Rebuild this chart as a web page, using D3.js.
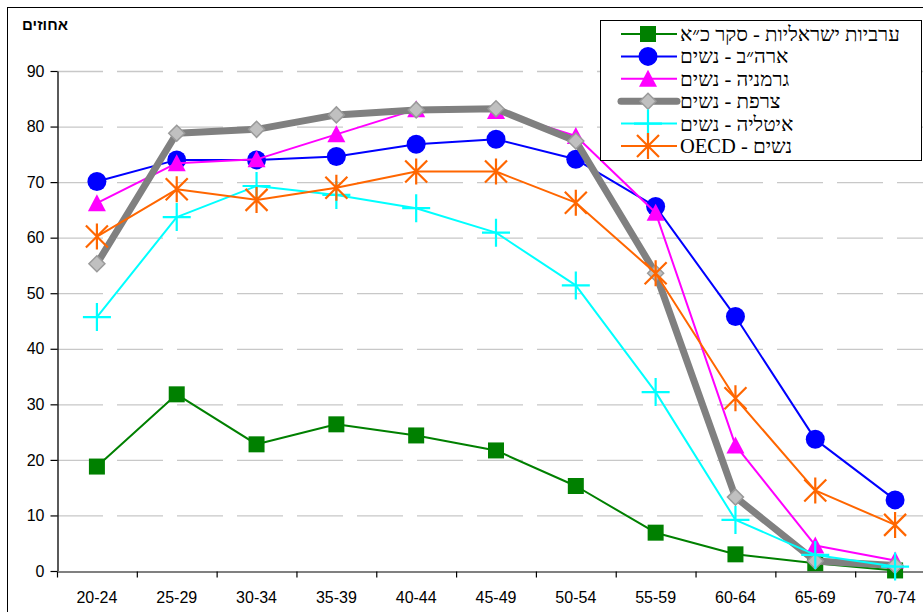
<!DOCTYPE html>
<html>
<head>
<meta charset="utf-8">
<script src="https://cdn.jsdelivr.net/npm/d3@7"></script>
<style>
  body { margin: 0; background: #fff; }
  svg { display: block; }
</style>
</head>
<body>
<svg id="chart" width="923" height="612"></svg>
<script>
// Age groups on the x axis
const ageGroups = ["20-24", "25-29", "30-34", "35-39", "40-44", "45-49", "50-54", "55-59", "60-64", "65-69", "70-74"];
const yTicks = [0, 10, 20, 30, 40, 50, 60, 70, 80, 90];

// Participation rates (percent)
const arabIsraeli = [18.8, 31.8, 22.8, 26.4, 24.4, 21.7, 15.3, 6.9, 3.0, 1.4, 0.1];
const usa = [70.1, 74.0, 74.0, 74.6, 76.8, 77.7, 74.1, 65.6, 45.8, 23.7, 12.8];
const germany = [66.2, 73.4, 74.1, 78.6, 83.1, 82.8, 78.3, 64.5, 22.6, 4.6, 1.9];
const france = [55.3, 78.8, 79.5, 82.1, 83.0, 83.2, 77.4, 53.6, 13.3, 1.8, 1.0];
const italy = [45.7, 63.7, 69.3, 67.7, 65.3, 60.9, 51.4, 32.2, 9.2, 2.9, 0.8];
const oecd = [60.2, 68.7, 66.8, 69.0, 71.9, 71.9, 66.3, 53.6, 31.1, 14.5, 8.3];

const seriesNames = ["ערביות ישראליות - סקר כ״א", "ארה״ב - נשים", "גרמניה - נשים", "צרפת - נשים", "איטליה - נשים", "נשים - OECD"];

const series = [
    { name: seriesNames[0], values: arabIsraeli, color: "#008000", width: 2, marker: "square" },
    { name: seriesNames[1], values: usa, color: "#0000ff", width: 2, marker: "circle" },
    { name: seriesNames[2], values: germany, color: "#ff00ff", width: 2, marker: "triangle" },
    { name: seriesNames[3], values: france, color: "#808080", width: 7, marker: "diamond" },
    { name: seriesNames[4], values: italy, color: "#00ffff", width: 2, marker: "plus" },
    { name: seriesNames[5], values: oecd, color: "#ff6600", width: 2, marker: "star" }
];

const svg = d3.select("#chart");

// Outer chart frame (cut off on the right and bottom like the original)
svg.append("rect")
    .attr("x", 7.5).attr("y", 7.5)
    .attr("width", 1000).attr("height", 700)
    .attr("fill", "#fff")
    .attr("stroke", "#000")
    .attr("stroke-width", 1);

const plot = { left: 57, top: 71, right: 935, bottom: 571 };

const x = d3.scaleBand()
    .domain(ageGroups)
    .range([plot.left, plot.right]);

const y = d3.scaleLinear()
    .domain([0, 90])
    .range([plot.bottom, plot.top]);

const g = svg.append("g");

// Dashed grid lines
g.append("g")
    .selectAll("line")
    .data(yTicks.filter(d => d > 0))
    .enter().append("line")
    .attr("x1", plot.left).attr("x2", plot.right)
    .attr("y1", d => y(d) + 0.5).attr("y2", d => y(d) + 0.5)
    .attr("stroke", "#c8c8c8")
    .attr("stroke-width", 1.3)
    .attr("stroke-dasharray", "46,14");

// Y axis
const yAxis = g.append("g")
    .attr("transform", `translate(${plot.left + 0.5},0)`)
    .call(d3.axisLeft(y).tickValues(yTicks).tickSize(7).tickPadding(6).tickSizeOuter(0));
yAxis.select(".domain").attr("stroke", "#000").attr("stroke-width", 1.3);
yAxis.selectAll(".tick line").attr("stroke", "#000").attr("stroke-width", 1.2);
yAxis.selectAll("text")
    .attr("fill", "#000")
    .style("font-family", "'Liberation Sans', Arial, sans-serif")
    .style("font-size", "16px");

// X axis
const xAxis = g.append("g")
    .attr("transform", `translate(0,${plot.bottom + 0.5})`)
    .call(d3.axisBottom(x).tickSize(0).tickPadding(20).tickSizeOuter(0));
xAxis.select(".domain").attr("stroke", "#808080").attr("stroke-width", 2);
xAxis.selectAll("text")
    .attr("fill", "#000")
    .style("font-family", "'Liberation Sans', Arial, sans-serif")
    .style("font-size", "16px");

// Tick marks between the categories
xAxis.append("g")
    .selectAll("line")
    .data(ageGroups)
    .enter().append("line")
    .attr("x1", d => x(d) + 0.5).attr("x2", d => x(d) + 0.5)
    .attr("y1", 0).attr("y2", 6)
    .attr("stroke", "#000")
    .attr("stroke-width", 1.2);

// Y axis title
svg.append("text")
    .attr("x", 45)
    .attr("y", 30)
    .attr("text-anchor", "middle")
    .style("font-family", "'Liberation Sans', Arial, sans-serif")
    .style("font-size", "15px")
    .style("font-weight", "bold")
    .text("אחוזים");

// Marker drawing
function drawMarker(sel, type, color) {
    if (type === "square") {
        sel.append("rect")
            .attr("x", -8).attr("y", -8).attr("width", 16).attr("height", 16)
            .attr("fill", color);
    } else if (type === "circle") {
        sel.append("circle").attr("r", 9.5).attr("fill", color);
    } else if (type === "triangle") {
        sel.append("path")
            .attr("d", "M0,-9L9,8L-9,8Z")
            .attr("fill", color);
    } else if (type === "diamond") {
        sel.append("path")
            .attr("d", "M0,-8L8,0L0,8L-8,0Z")
            .attr("fill", "#c0c0c0")
            .attr("stroke", "#9a9a9a")
            .attr("stroke-width", 1.5);
    } else if (type === "plus") {
        sel.append("path")
            .attr("d", "M-14,0H14M0,-14V14")
            .attr("stroke", color)
            .attr("stroke-width", 2.2);
    } else if (type === "star") {
        sel.append("path")
            .attr("d", "M0,-13V13M-11,-11L11,11M-11,11L11,-11")
            .attr("stroke", color)
            .attr("stroke-width", 2.2);
    }
}

const line = d3.line()
    .x((d, i) => x(ageGroups[i]) + x.bandwidth() / 2)
    .y(d => y(d));

// Series lines and markers, drawn in order
series.forEach(s => {
    const sg = g.append("g");
    sg.append("path")
        .datum(s.values)
        .attr("fill", "none")
        .attr("stroke", s.color)
        .attr("stroke-width", s.width)
        .attr("stroke-linejoin", "round")
        .attr("d", line);

    sg.selectAll(".mk")
        .data(s.values)
        .enter().append("g")
        .attr("class", "mk")
        .attr("transform", (d, i) => `translate(${x(ageGroups[i]) + x.bandwidth() / 2},${y(d)})`)
        .each(function() { drawMarker(d3.select(this), s.marker, s.color); });
});

// Legend
const legend = svg.append("g");
legend.append("rect")
    .attr("x", 600.5).attr("y", 20.5)
    .attr("width", 321).attr("height", 140)
    .attr("fill", "#fff")
    .attr("stroke", "#000")
    .attr("stroke-width", 1);

const items = legend.selectAll(".item")
    .data(series)
    .enter().append("g")
    .attr("class", "item")
    .attr("transform", (d, i) => `translate(0,${34 + i * 22.4})`);

items.append("line")
    .attr("x1", 621).attr("x2", 677)
    .attr("y1", 0).attr("y2", 0)
    .attr("stroke", d => d.color)
    .attr("stroke-width", d => d.width)
    .attr("stroke-linecap", d => d.width > 3 ? "round" : "butt");

items.append("g")
    .attr("transform", "translate(648,0)")
    .each(function(d) { drawMarker(d3.select(this), d.marker, d.color); });

items.append("text")
    .attr("x", 680)
    .attr("y", 7)
    .attr("direction", "rtl")
    .attr("text-anchor", "end")
    .style("font-family", "'Liberation Serif', 'Times New Roman', serif")
    .style("font-size", "20.5px")
    .text(d => d.name);
</script>
</body>
</html>
